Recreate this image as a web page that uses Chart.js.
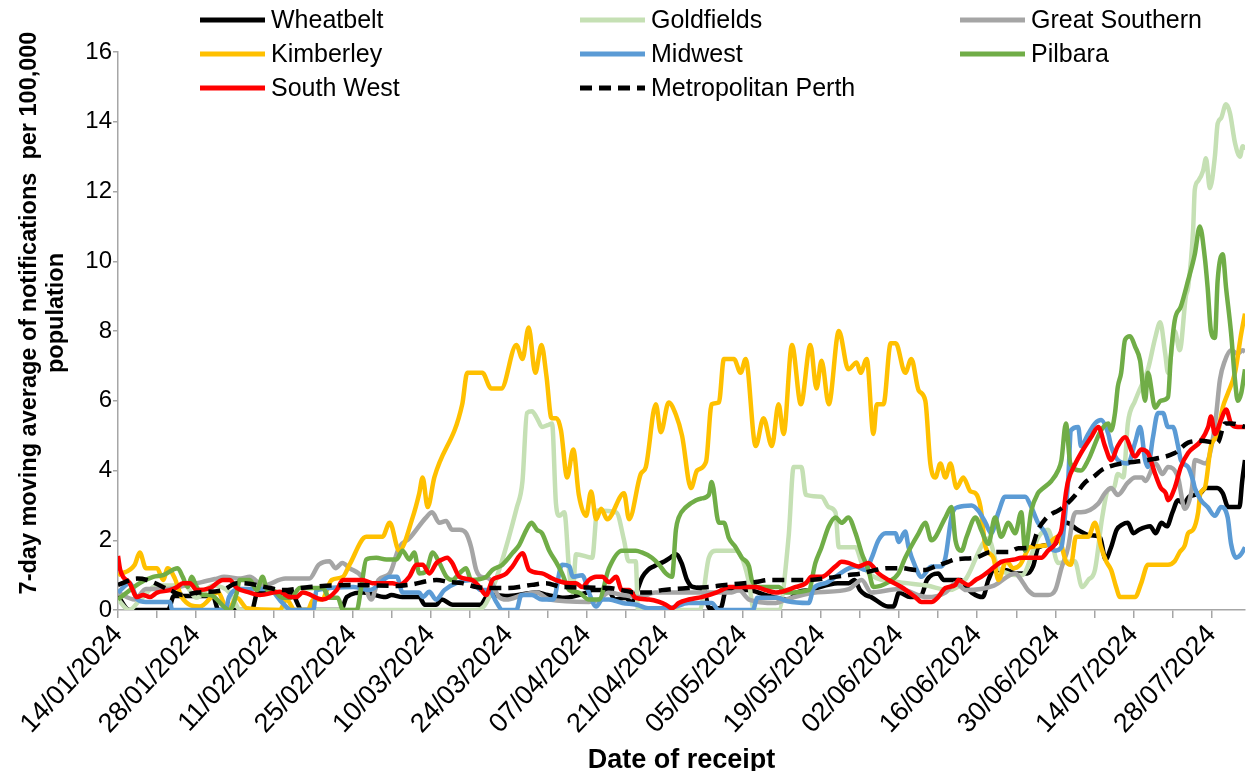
<!DOCTYPE html>
<html>
<head>
<meta charset="utf-8">
<script src="https://cdn.jsdelivr.net/npm/chart.js@4.4.1/dist/chart.umd.min.js"></script>
<style>
  html, body { margin: 0; padding: 0; background: #fff; }
  #wrap { width: 1248px; height: 771px; }
</style>
</head>
<body>
<div id="wrap"><canvas id="chartNotifications" width="1248" height="771"></canvas></div>
<script>
// day 0 = 14/01/2024, one point = [day, 7-day average per 100,000]
const startDate = Date.UTC(2024, 0, 14);
const lastDay = 202;

const wheatbelt = [[0,0.4],[2,0],[9,0],[10,0.4],[17,0.4],[18,0],[24,0],[25,0.5],[31,0.5],[33,0],[40,0],[41,0.37],[44,0.5],[48,0.37],[49,0.43],[51,0.37],[54,0.37],[55,0.15],[57,0.15],[58,0.3],[60,0.15],[65,0.15],[66,0.37],[67,0.43],[70,0.4],[75,0.5],[77,0.43],[80,0.35],[84,0.5],[85,0.57],[88,0.57],[89,0.3],[91,0.35],[92,0.23],[94,0.95],[95,1.15],[96,1.25],[98,1.4],[99,1.5],[100,1.6],[101,1.35],[102,0.86],[103,0.66],[105,0.57],[106,0.05],[108,0.05],[109,0.57],[113,0.57],[116,0.43],[118,0.35],[120,0.3],[122,0.52],[124,0.57],[129,0.77],[131,0.77],[132,0.86],[133,0.57],[134,0.43],[135,0.37],[138,0.1],[139,0.1],[140,0.5],[142,0.37],[144,0.43],[145,0.86],[147,1.05],[148,0.86],[151,0.86],[152,0.66],[153,0.5],[155,0.37],[156,0.86],[157,1.15],[159,1.15],[161,1.05],[163,1.05],[164,1.25],[165,1.8],[168,1.9],[170,2.5],[172,2.3],[174,2.15],[176,2.1],[177,1.45],[178,1.8],[179,2.3],[180,2.45],[181,2.5],[182,2.2],[183,2.3],[185,2.4],[186,2.2],[187,2.5],[188,2.4],[189,2.8],[190,3.15],[191,3.05],[192,3.25],[194,3.35],[195,3.5],[197,3.5],[198,3.35],[199,2.95],[201,2.95],[201.5,3.7],[202,4.3]];

const goldfields = [[0,0.3],[2,0],[4,0.3],[7,0.7],[12,0.7],[14,0.35],[17,0.7],[20,0.5],[22,0],[64,0],[66,0.2],[71.5,2.95],[72.5,3.7],[73.3,5.65],[74.2,5.7],[75.1,5.5],[76,5.25],[77,5.3],[77.8,5.35],[78.5,3.05],[79.1,2.7],[80,2.8],[80.9,1.05],[81.5,0.5],[82.1,1.6],[85,1.5],[85.9,2.85],[89.3,2.8],[90.7,2.0],[91.5,1.4],[92.8,1.4],[93.2,0],[104.3,0],[105.9,1.5],[107.2,1.7],[110.7,1.7],[111.8,1.5],[113,0.86],[114,0],[118.4,0],[120.2,2.1],[121.1,4.1],[122.5,4.1],[123.3,3.3],[126.1,3.25],[127.4,2.95],[128.6,2.8],[129.2,1.8],[132.2,1.8],[133.3,1.35],[135,1.0],[140,0.8],[145,0.7],[148.8,0.57],[152,0.9],[155,1.9],[156,2.05],[157.8,1.2],[162,1.0],[165,2.1],[166.7,2.3],[168.5,1.35],[171.5,1.4],[172.8,0.66],[173.9,0.86],[175.1,1.15],[176.4,2.65],[177.5,3.45],[178.5,3.5],[179.2,3.9],[180.2,3.8],[181,5.35],[182.3,6.0],[182.8,6.2],[184.6,6.9],[185.9,7.8],[186.8,8.25],[187.7,7.35],[188.2,6.8],[189.4,8.0],[190.3,7.45],[191.4,9.0],[191.8,9.25],[192.7,10.9],[193,12.05],[193.6,12.3],[194.5,12.6],[195,12.95],[195.7,12.1],[196.6,13.0],[197.1,13.95],[197.7,14.1],[198.6,14.5],[199.3,14.25],[200.2,13.4],[201.1,13.0],[201.6,13.3],[202,13.2]];

const greatSouthern = [[0,0.5],[3,0.3],[5,0.6],[9,0.6],[12,0.7],[15,0.8],[17.7,0.9],[19,0.95],[22,0.9],[23.6,0.95],[26,0.7],[30,0.9],[34.3,0.9],[36,1.3],[37.9,1.4],[39,1.2],[40.2,1.35],[41.5,1.2],[43.7,0.95],[45.4,0.3],[46.7,0.86],[48.7,1.05],[50.4,1.8],[52.2,2.05],[55.2,2.65],[56.3,2.8],[57.6,2.5],[58.8,2.55],[59.9,2.3],[61.2,2.3],[62.4,2.2],[63.3,1.8],[64.2,1.15],[65.1,0.95],[66.5,0.9],[68.3,0.37],[69.6,0.3],[72.5,0.43],[75,0.5],[77.3,0.3],[84.4,0.23],[86.2,0.3],[88,0.5],[90.4,0.43],[93.4,0.37],[96.3,0.5],[104.5,0.5],[110,0.5],[111.3,0.57],[113.1,0.3],[117.9,0.2],[119.7,0.3],[125,0.5],[131,0.6],[133.3,0.86],[135,0.5],[140,0.6],[145,0.37],[148.3,0.5],[150.1,0.77],[152,0.57],[157,0.7],[160.8,1.05],[161.9,0.86],[163.1,0.57],[164.4,0.43],[166.7,0.43],[168,0.57],[169.1,1.2],[170.3,1.8],[171.2,2.65],[171.7,2.8],[172.6,2.8],[175.7,3.05],[176.9,3.35],[178,3.5],[179.2,3.3],[181,3.65],[182.3,3.8],[183.6,3.8],[184.1,3.7],[186,4.2],[187.2,3.9],[188.2,4.1],[190,3.8],[191.2,2.9],[192.5,3.5],[193,4.3],[195,4.2],[196,4.7],[196.8,5.55],[197.5,6.6],[198.4,7.15],[199.5,7.45],[200.7,7.35],[201.6,7.45],[202,7.4]];

const kimberley = [[0,1.0],[3,1.3],[3.9,1.65],[5,1.2],[7,1.2],[8.1,0.86],[8.9,1.2],[10.2,0.9],[11.4,0.37],[14.7,0.1],[17.9,0.5],[19.7,0],[21.3,0.35],[23.1,0.05],[29,0],[30.2,0.3],[31.7,0],[34,0],[35,0.3],[36.5,0.3],[38.3,0.86],[40.3,0.95],[41.5,1.3],[44.5,2.1],[47.4,2.1],[48.7,2.5],[50.4,1.7],[52.8,2.65],[54,3.35],[54.6,3.8],[55.5,2.95],[56.7,3.8],[61.7,5.9],[62.6,6.8],[65.3,6.8],[66.9,6.35],[68.7,6.35],[71.4,7.6],[72.5,7.2],[73.6,8.1],[74.8,6.8],[75.9,7.6],[76.8,6.7],[77.7,5.5],[78.6,5.5],[79.4,5.15],[80.5,3.8],[81.6,4.6],[82.6,3.3],[83.9,2.7],[84.8,3.4],[85.7,2.6],[86.6,2.9],[87.7,2.6],[90.7,3.35],[91.6,2.6],[93.7,3.9],[94.6,4.1],[96.4,5.9],[97.3,5.1],[98.7,5.95],[100,5.6],[101.1,5.0],[102.7,3.5],[103.8,4.0],[105.4,4.25],[106.4,5.9],[107.7,5.95],[108.6,7.2],[110.4,7.2],[111.6,6.8],[112.5,7.2],[114.3,4.7],[115.7,5.5],[117.2,4.7],[118.4,5.9],[119.3,5.05],[120.8,7.6],[122.4,5.9],[124.1,7.6],[125.2,6.35],[126.1,7.15],[127.4,5.9],[129.2,8.0],[130.9,6.9],[132.4,7.1],[133.1,6.8],[134.2,7.2],[135.4,5.05],[136,5.9],[137.2,5.9],[138.5,7.65],[139.4,7.65],[141.1,6.8],[142.2,7.2],[143.5,6.3],[144.7,6.0],[145.6,4.2],[146.5,3.8],[147.4,4.2],[148.3,3.8],[149.2,4.2],[150.3,3.5],[151.5,3.8],[152.8,3.4],[153.7,3.35],[154.6,2.95],[155.5,1.8],[156.9,1.5],[157.8,0.86],[159.2,1.4],[160.5,1.2],[161.7,1.3],[163.5,1.8],[166.2,1.85],[168.5,2.1],[169.9,1.4],[170.8,1.3],[171.7,2.1],[173.9,2.1],[175.1,2.5],[176.2,1.8],[177.1,1.4],[178,1.15],[178.9,0.66],[179.6,0.37],[182.3,0.37],[183.4,0.77],[184.6,1.3],[188.2,1.3],[189.4,1.4],[190.3,1.66],[191.2,1.85],[191.8,2.2],[192.7,2.3],[193.6,2.8],[194,3.35],[194.8,3.5],[195.9,4.7],[197.1,5.05],[198,5.8],[198.9,6.2],[200.2,6.8],[201.3,7.9],[202,8.5]];

const midwest = [[0,0.5],[2.1,0.77],[3.5,0.3],[5,0.23],[9.3,0.23],[9.7,0],[19.3,0],[19.9,0.37],[22,0.6],[27,0.6],[29.5,0.2],[31,0],[35,0],[35.6,0.57],[42.2,0.66],[45.1,0.57],[48.7,0.95],[50,0.95],[51,0.5],[54,0.5],[54.6,0.37],[55.8,0.52],[57,0.3],[58.5,0.57],[60.6,0.77],[63.4,0.86],[65,0.57],[66.5,0.57],[67.8,0.23],[68.9,0],[71.4,0],[72.3,0.43],[74.2,0.43],[76,0.3],[78,0.3],[79.6,1.3],[80.9,1.25],[81.5,0.95],[83.2,1.0],[84.4,0.5],[85.7,0.1],[86.8,0.3],[88,0.3],[90.4,0.2],[93,0.15],[95,0.05],[98.7,0.05],[102.3,0.2],[106.4,0.2],[107.7,0],[113.8,0],[114.6,0.35],[118.2,0.35],[120,0.25],[123.8,0.2],[124.7,0.63],[126.8,0.77],[128.6,0.95],[130.4,1.15],[132.2,1.25],[134,1.15],[135.1,1.5],[136.3,2.0],[137.6,2.2],[139.4,2.2],[139.9,1.95],[141.1,2.25],[141.7,1.8],[142.9,1.25],[144,0.95],[145.8,1.25],[147.6,1.25],[148.3,1.5],[149.5,2.75],[150.6,2.95],[153,3.0],[154.2,2.85],[155.5,2.5],[156.5,2.2],[157.8,2.8],[159,3.25],[162.6,3.25],[163.7,2.95],[164.9,2.5],[166.2,2.2],[167.1,1.8],[168,1.7],[169.1,1.8],[169.8,2.8],[170.3,3.7],[170.8,5.15],[172.1,5.25],[172.6,4.7],[173.9,5.05],[175.1,5.35],[176.2,5.45],[177.5,5.05],[178,4.7],[179.2,4.3],[181,4.2],[182.3,4.8],[183.2,5.25],[184.1,4.3],[184.6,4.1],[185.5,4.95],[186.4,5.65],[187.3,5.65],[188.2,5.25],[189.1,5.25],[190,4.7],[190.5,4.3],[191.8,4.1],[192.7,3.7],[193,3.5],[194.1,3.15],[195.3,2.95],[196.6,2.7],[197.7,2.95],[198.9,2.65],[199.5,1.9],[200.4,1.5],[201.3,1.6],[202,1.8]];

const pilbara = [[0,0.3],[3.9,0.77],[6.3,0.95],[8.1,1.0],[10.7,1.2],[11.6,0.95],[12.5,0.66],[13.2,0.95],[14.1,0.66],[15.2,0.43],[16.5,0.43],[20,0],[21.3,0.5],[21.8,0.86],[23.6,0.86],[24.9,0.57],[25.9,0.95],[26.8,0.57],[27.7,0.57],[29.5,0.35],[31,0.35],[32.6,0.63],[36.7,0.63],[37.9,0.35],[39.4,0.35],[40.3,0],[42.8,0],[43.6,0.66],[44.5,1.45],[46.3,1.5],[48.1,1.45],[49.9,1.45],[51,1.7],[52.2,1.45],[53.1,1.65],[54,1.05],[55.2,1.1],[56.4,1.65],[57.6,1.35],[58.9,0.95],[59.9,0.86],[61.2,1.05],[62.4,1.2],[63.3,0.86],[66,0.95],[67.1,1.15],[68.9,1.3],[70.7,1.63],[71.9,1.86],[73.2,2.3],[74.1,2.5],[75.1,2.3],[76,2.2],[77.3,1.7],[78.5,1.38],[79.6,1.05],[80.9,0.57],[82.6,0.5],[84.4,0.3],[86.2,0.3],[88,1.2],[90.3,1.7],[92.8,1.7],[93.9,1.65],[95.7,1.5],[97,1.3],[98.2,1.05],[99.3,0.95],[100,2.3],[100.5,2.65],[101.8,2.95],[103.6,3.15],[104.6,3.2],[105.9,3.3],[106.4,3.67],[107.7,2.5],[108.6,2.5],[109.5,2.06],[110.7,1.8],[111.8,1.5],[113.1,1.25],[113.6,0.86],[114.8,0.66],[118.4,0.66],[119.7,0.5],[123.8,0.57],[125,1.35],[126.1,1.8],[127.4,2.4],[128.6,2.65],[129.7,2.5],[130.9,2.65],[132.2,2.2],[133.3,1.63],[134.5,1.15],[135.4,0.66],[138.1,0.8],[139.9,1.05],[141.1,1.5],[143.5,2.2],[144.7,2.5],[145.8,2.0],[148.3,2.65],[149.4,2.95],[150.1,2.0],[151.2,1.7],[152.1,2.1],[153.7,2.65],[154.7,2.3],[156,1.9],[157.2,2.65],[158.3,2.1],[159.6,2.5],[160.8,2.2],[161.9,2.8],[162.6,1.7],[163.7,2.85],[164.9,3.35],[165.5,3.45],[167.3,3.7],[168.5,4.0],[169.1,4.3],[169.9,5.35],[170.7,4.2],[172.6,4.0],[173.9,4.3],[176.2,5.15],[177.5,5.35],[178,5.15],[178.7,5.65],[179.2,6.4],[179.8,6.8],[180.5,7.75],[181.4,7.85],[182.3,7.55],[183.2,7.15],[184.1,6.0],[184.6,6.8],[185.9,5.8],[186.9,6.0],[188.2,6.1],[188.7,7.25],[189.4,8.3],[190.5,8.7],[191.8,9.45],[193,10.2],[193.9,11.0],[194.8,10.1],[195.3,9.25],[195.9,8.0],[196.6,7.8],[197.1,9.45],[198,10.2],[198.6,9.25],[199.5,7.95],[200.2,6.6],[200.7,6.0],[201.3,6.2],[202,6.9]];

const southWest = [[0,1.55],[0.4,1.15],[2.1,0.77],[3.4,0.37],[4.5,0.43],[5.7,0.37],[7,0.5],[9.3,0.57],[10.6,0.66],[11.6,0.77],[12.9,0.77],[14.1,0.57],[16.5,0.63],[18.8,0.86],[20,0.86],[21.3,0.63],[23.6,0.5],[25.4,0.43],[29,0.52],[30.8,0.37],[32,0.37],[33.1,0.5],[36.7,0.3],[39.2,0.57],[40.3,0.86],[43.8,0.86],[45.6,0.77],[49.2,0.77],[50.4,0.72],[52.2,0.95],[53.5,1.3],[54.6,1.3],[55.8,1.05],[57.1,1.35],[58.1,1.45],[59,1.5],[59.9,1.35],[61.2,0.95],[63.5,0.86],[64.8,0.66],[66,0.43],[67.1,0.86],[68.3,0.95],[69.6,1.05],[70.7,1.25],[72.5,1.63],[73.7,1.15],[76,1.05],[77.3,0.95],[78.5,0.86],[80.9,0.77],[82.1,0.77],[83.2,0.66],[84.4,0.86],[85.7,0.95],[86.8,0.95],[88,0.8],[89.3,0.95],[90.3,0.57],[91.6,0.57],[92.8,0.35],[95.2,0.3],[97,0.23],[98.2,0.15],[99.3,0.05],[100.5,0.2],[102.3,0.3],[104.6,0.37],[107.2,0.5],[108.2,0.57],[109.5,0.66],[114.3,0.66],[116.1,0.57],[117.9,0.5],[121.5,0.66],[123.3,0.77],[124.3,0.95],[126.1,0.95],[128.6,1.25],[129.7,1.38],[130.9,1.35],[132.7,1.25],[134.5,1.35],[136.3,1.05],[138.1,0.86],[140.4,0.66],[142.9,0.37],[144,0.23],[145.8,0.23],[147,0.37],[148.3,0.63],[150.1,0.72],[150.6,0.86],[152.4,0.72],[153.7,0.86],[154.7,0.95],[157.2,1.25],[158.3,1.38],[160.8,1.45],[161.9,1.5],[165.5,1.5],[166.7,1.7],[168,1.9],[168.5,2.1],[169.1,2.3],[169.9,3.35],[170.3,3.7],[171.6,4.2],[172.6,4.5],[174.4,4.95],[175.7,5.25],[176.9,4.7],[178,4.3],[179.2,4.7],[180.5,4.95],[182.3,4.4],[183.4,4.6],[184.6,4.5],[185.9,3.9],[186.9,3.5],[187.8,3.35],[188.2,3.15],[189.4,3.5],[190.5,4.1],[191.8,4.5],[194.1,4.85],[195.4,5.25],[195.9,5.55],[196.6,5.05],[197.7,5.45],[198.6,5.75],[199.5,5.35],[200.7,5.25],[202,5.25]];

const metroPerth = [[0,0.72],[3.4,0.9],[5.2,0.86],[9.3,0.57],[11.6,0.43],[14.1,0.5],[18.8,0.57],[21.3,0.77],[23.6,0.75],[27.2,0.63],[29.5,0.57],[34.3,0.66],[42,0.72],[49.9,0.69],[52.2,0.72],[57.1,0.86],[59.4,0.8],[61.7,0.77],[64.2,0.66],[67.1,0.63],[69.6,0.63],[74.2,0.72],[76.7,0.77],[79.6,0.66],[88,0.63],[90.3,0.57],[92.8,0.5],[95.2,0.5],[97.5,0.57],[102.3,0.63],[105.9,0.66],[108.9,0.72],[114.3,0.8],[116.6,0.86],[123.8,0.86],[128.6,0.95],[130.9,1.0],[133.3,1.05],[135.8,1.15],[138.1,1.2],[140.4,1.2],[142.9,1.15],[144.7,1.15],[146.5,1.25],[148.8,1.38],[150.1,1.45],[153.7,1.5],[156.5,1.66],[159.6,1.66],[161.4,1.77],[163.7,1.8],[164.9,2.3],[166.2,2.6],[167.3,2.75],[168.5,2.85],[169.8,3.0],[171.6,3.3],[173.3,3.65],[175.1,3.85],[176.2,4.0],[177.5,4.1],[179.8,4.2],[182.3,4.25],[184.6,4.3],[189.4,4.5],[191.8,4.8],[194.1,4.85],[197.1,4.8],[198.4,5.35],[199.5,5.35],[202,5.25]];

const seriesNames = ['Wheatbelt', 'Goldfields', 'Great Southern', 'Kimberley', 'Midwest', 'Pilbara', 'South West', 'Metropolitan Perth'];
const seriesData = [wheatbelt, goldfields, greatSouthern, kimberley, midwest, pilbara, southWest, metroPerth];
const seriesColors = ['#000000', '#c5e0b4', '#a5a5a5', '#ffc000', '#5b9bd5', '#70ad47', '#ff0000', '#000000'];
const yTitleLines = ['7-day moving average of notifications  per 100,000', 'population'];

const fontFamily = "'Liberation Sans', Arial, sans-serif";
Chart.defaults.font.family = fontFamily;
Chart.defaults.color = '#000';

const formatDay = (v) => {
    const d = new Date(startDate + v * 86400000);
    const dd = String(d.getUTCDate()).padStart(2, '0');
    const mm = String(d.getUTCMonth() + 1).padStart(2, '0');
    return dd + '/' + mm + '/' + d.getUTCFullYear();
};

//legend in 3 columns + y title a bit above centre, like the excel one
const excelBits = {
    id: 'excelBits',
    afterDraw(chart) {
        const ctx = chart.ctx;
        const colX = [200, 580, 960];
        const rowY = [20, 54, 88];
        ctx.save();
        ctx.font = '25px ' + fontFamily;
        ctx.textBaseline = 'middle';
        ctx.textAlign = 'left';
        chart.data.datasets.forEach((ds, i) => {
            const x = colX[i % 3];
            const y = rowY[Math.floor(i / 3)];
            ctx.strokeStyle = ds.borderColor;
            ctx.lineWidth = 5;
            ctx.setLineDash(ds.borderDash || []);
            ctx.beginPath();
            ctx.moveTo(x, y);
            ctx.lineTo(x + 65, y);
            ctx.stroke();
            ctx.setLineDash([]);
            ctx.fillStyle = '#000';
            ctx.fillText(ds.label, x + 71, y + 1);
        });

        ctx.font = 'bold 23.5px ' + fontFamily;
        ctx.textAlign = 'center';
        yTitleLines.forEach((line, i) => {
            ctx.save();
            ctx.translate(30 + i * 27, 313);
            ctx.rotate(-Math.PI / 2);
            ctx.fillText(line, 0, 0);
            ctx.restore();
        });
        ctx.restore();
    }
};

const datasets = seriesNames.map((name, i) => ({
    label: name,
    data: seriesData[i].map(p => ({ x: p[0], y: p[1] })),
    borderColor: seriesColors[i],
    backgroundColor: seriesColors[i],
    borderWidth: 4.5,
    borderDash: name === 'Metropolitan Perth' ? [12, 7] : undefined,
    pointRadius: 0,
    fill: false,
    cubicInterpolationMode: 'monotone',
    order: seriesNames.length - i
}));

const axisGrey = '#a6a6a6';

const chartNotifications = new Chart(document.getElementById('chartNotifications'), {
    type: 'line',
    data: { datasets: datasets },
    options: {
        responsive: false,
        animation: false,
        devicePixelRatio: 1,
        layout: { padding: { top: 52, right: 3, bottom: 0, left: 0 } },
        plugins: {
            legend: { display: false },
            tooltip: { enabled: false }
        },
        scales: {
            x: {
                type: 'linear',
                min: 0,
                max: lastDay,
                afterFit: (scale) => { scale.height = 161; },
                border: { color: axisGrey, width: 1.5 },
                grid: { drawOnChartArea: false, drawTicks: true, tickLength: 8, color: axisGrey, lineWidth: 1.5 },
                ticks: {
                    stepSize: 7,
                    autoSkip: false,
                    includeBounds: false,
                    minRotation: 47,
                    maxRotation: 47,
                    padding: 1,
                    font: { size: 27 },
                    color: '#000',
                    callback: (v) => (v % 14 === 0 ? formatDay(v) : '')
                },
                title: {
                    display: true,
                    text: 'Date of receipt',
                    font: { size: 27, weight: 'bold', lineHeight: 0.75 },
                    color: '#000',
                    padding: { top: 0, bottom: 0 }
                }
            },
            y: {
                min: 0,
                max: 16,
                afterFit: (scale) => { scale.width = 118; },
                border: { color: axisGrey, width: 1.5 },
                grid: { drawOnChartArea: false, drawTicks: true, tickLength: 5, color: axisGrey, lineWidth: 1.5 },
                ticks: { stepSize: 2, padding: 1, font: { size: 24 }, color: '#000' },
                title: { display: false }
            }
        }
    },
    plugins: [excelBits]
});
</script>
</body>
</html>
